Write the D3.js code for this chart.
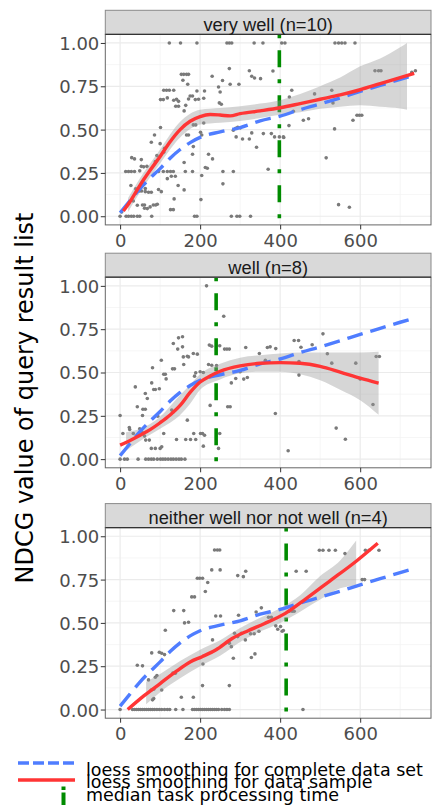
<!DOCTYPE html>
<html>
<head>
<meta charset="utf-8">
<script src="https://cdn.jsdelivr.net/npm/d3@7"></script>
<style>
  html, body { margin: 0; padding: 0; background: #fff; }
  svg { display: block; }
</style>
</head>
<body>
<script>
// ---------------- DATA ----------------
const panelTitles = ["very well (n=10)", "well (n=8)", "neither well nor not well (n=4)"];
const xTicks = [0, 200, 400, 600];
const yTicks = [0, 0.25, 0.5, 0.75, 1];
const legendLabels = ["loess smoothing for complete data set", "loess smoothing for data sample", "median task processing time"];
const medianTime = [398, 240, 415];

// scatter points [time, ndcg]
const points1 = [[0,0],[4,0.025],[15,0],[21,0],[28,0],[34,0],[43,0],[49,0],[79,0],[186,0],[192,0],[278,0],[292,0],[299,0],[326,0],
[123,1],[151,1],[192,1],[267,1],[273,1],[279,1],[335,1],[357,1],[404,1],[412,1],[537,1],[546,1],[554,1],[562,1],[587,1],
[273,0.852],[323,0.84],[329,0.808],[336,0.798],[351,0.794],[382,0.838],
[153,0.819],[159,0.819],[166,0.819],[171,0.819],[157,0.785],[169,0.762],[230,0.808],[256,0.783],[246,0.746],[275,0.762],[297,0.762],[250,0.717],
[109,0.727],[116,0.727],[123,0.727],[134,0.727],[192,0.723],[211,0.723],
[101,0.673],[108,0.673],[118,0.683],[134,0.669],[141,0.675],[146,0.663],[175,0.694],[181,0.694],[171,0.677],[188,0.673],[196,0.675],[209,0.681],
[139,0.635],[146,0.635],[164,0.64],[248,0.654],[253,0.646],[160,0.608],
[183,0.527],[189,0.527],[209,0.538],[201,0.485],[204,0.469],[166,0.469],[171,0.469],[101,0.512],[86,0.469],[78,0.427],[100,0.419],[111,0.392],[183,0.402],
[283,0.496],[289,0.508],[294,0.513],[301,0.51],[290,0.458],[306,0.446],[323,0.446],[341,0.398],[358,0.477],[378,0.477],[386,0.458],[398,0.458],[409,0.454],[329,0.481],
[29,0.338],[36,0.331],[53,0.327],[53,0.288],[49,0.262],[59,0.285],[67,0.288],
[14,0.258],[21,0.258],[28,0.258],[36,0.258],[92,0.35],[109,0.369],[88,0.315],
[96,0.258],[108,0.258],[118,0.258],[126,0.258],[133,0.258],[163,0.258],[181,0.258],[213,0.281],[218,0.277],[257,0.258],[283,0.258],
[221,0.358],[231,0.331],[181,0.358],[160,0.31],[118,0.217],[128,0.231],[138,0.231],[204,0.235],[257,0.187],[370,0.271],
[27,0.177],[39,0.158],[49,0.146],[54,0.146],[63,0.142],[71,0.138],[78,0.138],[63,0.16],[96,0.154],[103,0.142],[145,0.177],[160,0.152],
[135,0.1],[202,0.096],[43,0.063],[56,0.065],[61,0.065],[83,0.065],[89,0.065],[93,0.069],[75,0.054],[68,0.044],[61,0.046],[126,0.038],[133,0.038],[33,0.088],
[429,0.727],[423,0.688],[433,0.606],[422,0.523],[458,0.554],[471,0.563],[486,0.706],[529,0.727],[532,0.654],[536,0.504],[515,0.337],[546,0.067],[573,0.052],
[582,0.554],[592,0.583],[598,0.583],[604,0.583],[408,0.458],[637,0.84],[646,0.84],[652,0.84],[729,0.83],[738,0.84]];

const points2 = [[216,1],[259,0.825],[146,0.7],[156,0.706],[133,0.667],[156,0.648],[144,0.635],[158,0.59],[168,0.594],[171,0.59],[183,0.61],[193,0.606],
[159,0.546],[131,0.521],[136,0.521],[103,0.571],[81,0.527],[109,0.49],[113,0.49],[115,0.463],
[223,0.658],[229,0.652],[249,0.654],[261,0.635],[267,0.635],[273,0.635],[314,0.644],[348,0.61],[368,0.644],[375,0.648],[389,0.638],[363,0.571],
[221,0.546],[229,0.542],[241,0.54],[186,0.479],[189,0.498],[200,0.504],[208,0.5],[278,0.44],[289,0.465],[300,0.504],[309,0.462],[318,0.471],
[38,0.417],[63,0.379],[68,0.35],[79,0.44],[84,0.402],[88,0.402],[98,0.406],[43,0.302],[57,0.288],[63,0.288],[56,0.252],[94,0.248],[129,0.283],[133,0.273],
[168,0.225],[225,0.31],[269,0.302],[275,0.302],[388,0.263],
[0,0.252],[7,0.148],[23,0.183],[24,0.171],[33,0.148],[49,0.175],[56,0.152],[61,0.133],[64,0.11],[73,0.11],[78,0.062],[88,0.062],[100,0.062],[104,0.071],
[109,0.148],[141,0.113],[164,0.113],[176,0.113],[189,0.113],[184,0.148],[201,0.148],[206,0.148],[211,0.138],[208,0.075],[249,0.148],[246,0.062],
[0,0],[11,0],[18,0],[45,0],[64,0],[71,0],[78,0],[84,0],[93,0],[101,0],[107,0],[113,0],[120,0],[127,0],[133,0],[140,0],[147,0],[153,0],[162,0],
[435,0.685],[446,0.685],[452,0.646],[480,0.66],[507,0.723],[518,0.608],[529,0.554],[447,0.563],[447,0.485],[420,0.048],[540,0.179],[563,0.115],
[589,0.554],[600,0.462],[632,0.315],[640,0.592],[648,0.592]];

const points3 = [[236,0.921],[243,0.921],[249,0.921],[229,0.806],[250,0.806],[193,0.758],[199,0.758],[206,0.758],[219,0.733],[213,0.681],[179,0.65],[186,0.65],
[294,0.773],[308,0.767],[314,0.798],
[134,0.571],[159,0.571],[161,0.5],[171,0.504],[239,0.54],[251,0.54],[296,0.544],[340,0.563],[353,0.587],[371,0.533],[378,0.533],[113,0.458],
[79,0.327],[98,0.331],[104,0.325],[111,0.317],[43,0.256],[56,0.252],[231,0.402],[273,0.383],[278,0.363],[283,0.296],
[286,0.44],[294,0.421],[303,0.44],[313,0.402],[326,0.437],[335,0.437],[347,0.452],[328,0.3],[337,0.321],[389,0.483],[394,0.463],[401,0.479],[408,0.456],
[132,0.21],[138,0.21],[88,0.186],[92,0.196],[71,0.171],[207,0.263],[206,0.138],[273,0.138],[78,0.113],[84,0.117],[104,0.113],[84,0.063],[81,0.056],[153,0.071],[183,0.071],
[0,0],[31,0],[36,0],[41,0],[46,0],[51,0],[56,0],[61,0],[66,0],[71,0],[76,0],[81,0],[86,0],[92,0],[98,0],[104,0],[111,0],[118,0],[124,0],[139,0],[157,0],
[181,0],[186,0],[191,0],[196,0],[201,0],[206,0],[211,0],[216,0],[221,0],[226,0],[231,0],[236,0],[241,0],[246,0],[254,0],[261,0],[267,0],[273,0],
[498,0.919],[507,0.919],[522,0.919],[538,0.919],[562,0.9],[605,0.75],[611,0.75],[613,0.919],[622,0.919],[647,0.919],[440,0.798],[465,0.798],
[423,0.567],[430,0.567],[435,0.567],[405,0.452],[457,0]];

// loess fit for the complete data set (same in every panel) [time, ndcg]
const loessAll = [[0,0.02],[25,0.09],[50,0.16],[75,0.22],[100,0.275],[125,0.335],[150,0.385],[175,0.425],[200,0.455],[250,0.487],[300,0.512],
[350,0.55],[400,0.578],[450,0.615],[500,0.648],[550,0.683],[600,0.72],[650,0.755],[700,0.79],[737,0.815]];

// loess fit for the data sample [time, ndcg]
const loess1 = [[8,0.03],[25,0.085],[50,0.18],[75,0.265],[100,0.345],[125,0.43],[150,0.5],[175,0.548],[200,0.575],[225,0.587],[250,0.584],[275,0.579],
[300,0.592],[350,0.608],[400,0.626],[450,0.65],[500,0.675],[550,0.7],[600,0.73],[650,0.765],[700,0.8],[735,0.825]];
const loess2 = [[0,0.081],[25,0.108],[50,0.138],[75,0.17],[100,0.21],[125,0.255],[150,0.31],[175,0.385],[200,0.445],[225,0.48],[250,0.507],[300,0.538],
[350,0.553],[400,0.557],[450,0.553],[500,0.535],[550,0.502],[600,0.467],[646,0.438]];
const loess3 = [[19,0],[60,0.08],[100,0.15],[140,0.22],[175,0.275],[205,0.305],[240,0.345],[280,0.41],[320,0.455],[360,0.495],[413,0.555],[465,0.64],
[523,0.74],[590,0.856],[644,0.96]];

// confidence band [time, lower, upper]
const band1 = [[20,0.025,0.105],[50,0.14,0.22],[100,0.305,0.385],[150,0.455,0.545],[200,0.53,0.615],[250,0.54,0.625],[300,0.55,0.635],[350,0.567,0.65],
[400,0.585,0.67],[450,0.6,0.705],[500,0.62,0.75],[550,0.632,0.8],[600,0.64,0.865],[650,0.632,0.91],[700,0.622,0.975],[717,0.615,1.0]];
const band2 = [[15,0.05,0.155],[50,0.105,0.175],[100,0.175,0.245],[150,0.255,0.37],[175,0.32,0.43],[200,0.4,0.49],[250,0.46,0.55],[300,0.495,0.585],
[350,0.505,0.6],[400,0.505,0.61],[450,0.49,0.615],[500,0.455,0.615],[550,0.4,0.615],[600,0.34,0.615],[646,0.256,0.62]];
const band3 = [[65,0.03,0.16],[100,0.1,0.205],[150,0.18,0.28],[200,0.25,0.345],[250,0.31,0.4],[300,0.39,0.47],[350,0.45,0.53],[400,0.5,0.585],
[450,0.565,0.66],[500,0.635,0.77],[550,0.7,0.86],[590,0.715,0.975]];

const pointSets = [points1, points2, points3];
const sampleFits = [loess1, loess2, loess3];
const bands = [band1, band2, band3];

// ---------------- LAYOUT ----------------
const W = 432, H = 805;
const plotTops = [34.3, 277.2, 527.6];
const plotH = 190.6, stripH = 24;
const left = 105.3, right = 431;
const tickFont = "'DejaVu Sans', sans-serif";
const txtGrey = "#4D4D4D";
const cBlue = "#4F7DFF", cRed = "#FF3535", cGreen = "#008B00";

const svg = d3.select("body").append("svg").attr("width", W).attr("height", H);

const x = d3.scaleLinear().domain([-37, 777]).range([left, right]);

pointSets.forEach((pts, i) => {
  const top = plotTops[i], bottom = top + plotH;
  const y = d3.scaleLinear().domain([-0.05, 1.05]).range([bottom, top]);
  const g = svg.append("g");

  const clipId = "clip" + i;
  svg.append("clipPath").attr("id", clipId).append("rect")
    .attr("x", left).attr("y", top).attr("width", right - left).attr("height", plotH);

  // panel background
  g.append("rect").attr("x", left).attr("y", top).attr("width", right - left).attr("height", plotH).attr("fill", "#fff");

  // grid
  const minorX = [100, 300, 500, 700], minorY = [0.125, 0.375, 0.625, 0.875];
  g.selectAll(".mx").data(minorX).join("line")
    .attr("x1", d => x(d)).attr("x2", d => x(d)).attr("y1", top).attr("y2", bottom)
    .attr("stroke", "#F2F2F2").attr("stroke-width", 0.7);
  g.selectAll(".my").data(minorY).join("line")
    .attr("x1", left).attr("x2", right).attr("y1", d => y(d)).attr("y2", d => y(d))
    .attr("stroke", "#F2F2F2").attr("stroke-width", 0.7);
  g.selectAll(".gx").data(xTicks).join("line")
    .attr("x1", d => x(d)).attr("x2", d => x(d)).attr("y1", top).attr("y2", bottom)
    .attr("stroke", "#EBEBEB").attr("stroke-width", 1.2);
  g.selectAll(".gy").data(yTicks).join("line")
    .attr("x1", left).attr("x2", right).attr("y1", d => y(d)).attr("y2", d => y(d))
    .attr("stroke", "#EBEBEB").attr("stroke-width", 1.2);

  const inner = g.append("g").attr("clip-path", `url(#${clipId})`);

  // points
  inner.selectAll("circle").data(pts).join("circle")
    .attr("cx", d => x(d[0])).attr("cy", d => y(d[1])).attr("r", 1.8)
    .attr("fill", "#7A7A7A");

  // median line
  inner.append("line")
    .attr("x1", x(medianTime[i])).attr("x2", x(medianTime[i]))
    .attr("y1", top).attr("y2", bottom)
    .attr("stroke", cGreen).attr("stroke-width", 3.6)
    .attr("stroke-dasharray", "4,12,17,12");

  // ribbon
  const area = d3.area().x(d => x(d[0])).y0(d => y(d[1])).y1(d => y(d[2])).curve(d3.curveMonotoneX);
  inner.append("path").datum(bands[i]).attr("d", area)
    .attr("fill", "#999999").attr("fill-opacity", 0.4);

  const line = d3.line().x(d => x(d[0])).y(d => y(d[1])).curve(d3.curveMonotoneX);
  // complete data set loess
  inner.append("path").datum(loessAll).attr("d", line)
    .attr("fill", "none").attr("stroke", cBlue).attr("stroke-width", 3.4)
    .attr("stroke-dasharray", "16,8");
  // sample loess
  inner.append("path").datum(sampleFits[i]).attr("d", line)
    .attr("fill", "none").attr("stroke", cRed).attr("stroke-width", 3.4);

  // panel border
  g.append("rect").attr("x", left).attr("y", top).attr("width", right - left).attr("height", plotH)
    .attr("fill", "none").attr("stroke", "#666").attr("stroke-width", 1);

  // strip
  g.append("rect").attr("x", left).attr("y", top - stripH).attr("width", right - left).attr("height", stripH)
    .attr("fill", "#D9D9D9").attr("stroke", "#8A8A8A").attr("stroke-width", 1);
  g.append("line").attr("x1", left).attr("x2", right).attr("y1", top).attr("y2", top)
    .attr("stroke", "#333").attr("stroke-width", 1.3);
  g.append("text").attr("x", (left + right) / 2).attr("y", top - 3.6)
    .attr("text-anchor", "middle").attr("font-family", "'Liberation Sans', Arial, sans-serif")
    .attr("font-size", "18.3px").attr("fill", "#1A1A1A").text(panelTitles[i]);

  // axes
  const ya = g.append("g").attr("transform", `translate(${left},0)`)
    .call(d3.axisLeft(y).tickValues(yTicks).tickFormat(d3.format(".2f")).tickSize(4.5).tickPadding(1.5));
  ya.select(".domain").remove();
  ya.selectAll("line").attr("stroke", "#333").attr("stroke-width", 1);
  ya.selectAll("text").attr("font-family", tickFont).attr("font-size", "18px").attr("fill", txtGrey).attr("dy", "0.36em");

  const xa = g.append("g").attr("transform", `translate(0,${bottom})`)
    .call(d3.axisBottom(x).tickValues(xTicks).tickSize(4.5).tickPadding(4.5));
  xa.select(".domain").remove();
  xa.selectAll("line").attr("stroke", "#333").attr("stroke-width", 1);
  xa.selectAll("text").attr("font-family", tickFont).attr("font-size", "18px").attr("fill", txtGrey).attr("dy", "0.71em");
});

// y axis title
svg.append("text").attr("transform", "translate(33,398) rotate(-90)")
  .attr("text-anchor", "middle").attr("font-family", tickFont).attr("font-size", "24px")
  .attr("fill", "#000").text("NDCG value of query result list");

// legend
const lg = svg.append("g");
lg.append("line").attr("x1", 18).attr("x2", 75).attr("y1", 763).attr("y2", 763)
  .attr("stroke", cBlue).attr("stroke-width", 3.4).attr("stroke-dasharray", "11,4");
lg.append("line").attr("x1", 18).attr("x2", 75).attr("y1", 780).attr("y2", 780)
  .attr("stroke", cRed).attr("stroke-width", 3.4);
lg.append("line").attr("x1", 63.5).attr("x2", 63.5).attr("y1", 786.5).attr("y2", 805)
  .attr("stroke", cGreen).attr("stroke-width", 4).attr("stroke-dasharray", "3.5,2.5,20");
const legY = [775.5, 788.3, 801];
lg.selectAll("text").data(legendLabels).join("text")
  .attr("x", 86).attr("y", (d, i) => legY[i])
  .attr("font-family", tickFont).attr("font-size", "17.5px").attr("fill", "#000")
  .text(d => d);
</script>
</body>
</html>
